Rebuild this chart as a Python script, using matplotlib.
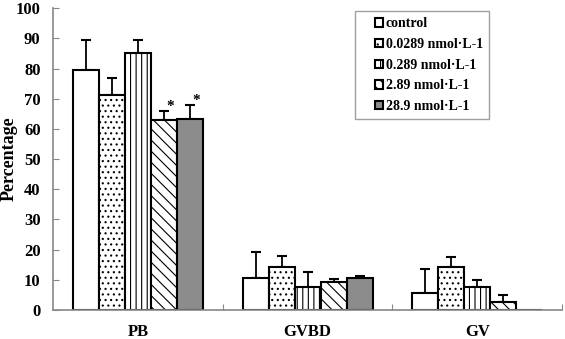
import numpy as np
import matplotlib
matplotlib.use("Agg")
from matplotlib import pyplot as plt
from matplotlib.patches import Rectangle
from matplotlib.container import BarContainer
from matplotlib.legend_handler import HandlerPatch, update_from_first_child

plt.rcParams['font.family'] = ['Liberation Serif', 'DejaVu Serif']
plt.rcParams['font.weight'] = 'bold'
plt.rcParams['hatch.linewidth'] = 0.8

categories = ["PB", "GVBD", "GV"]
series_names = ["control", "0.0289 nmol·L-1", "0.289 nmol·L-1", "2.89 nmol·L-1", "28.9 nmol·L-1"]
values = [
    [79.5, 10.5, 5.6],
    [71.3, 14.3, 14.3],
    [85.0, 7.5, 7.5],
    [62.8, 9.4, 2.5],
    [63.3, 10.6, 0.0],
]
errors = [
    [10.0, 8.8, 7.9],
    [5.7, 3.7, 3.4],
    [4.5, 5.0, 2.3],
    [3.2, 0.9, 2.5],
    [4.7, 0.8, 0.0],
]
# significance markers: (series index, category index)
stars = [(3, 0), (4, 0)]

hatches = ["", "...", "|||", "\\\\\\", ""]
facecolors = ["white", "white", "white", "white", "#8c8c8c"]


def small_square(legend, orig_handle, xdescent, ydescent, width, height, fontsize):
    # small box pushed to the right end of the handle area
    side = 0.62 * fontsize
    return Rectangle((width - side - xdescent, (height - side) / 2 - ydescent), side, side)


fig = plt.figure(figsize=(5.65, 3.39), dpi=100)
ax = fig.add_axes([0.094, 0.0855, 0.901, 0.8905])

x = np.arange(len(categories))
width = 0.153
for i, name in enumerate(series_names):
    pos = x + (i - 2) * width
    vals = np.array(values[i])
    errs = np.array(errors[i])
    ax.bar(pos, vals, width, color=facecolors[i], edgecolor="black", hatch=hatches[i],
           linewidth=1.5, label=name, zorder=2)
    mask = vals > 0
    ax.errorbar(pos[mask], vals[mask], yerr=[np.zeros(mask.sum()), errs[mask]], fmt="none",
                ecolor="black", elinewidth=1.3, capsize=3.5, capthick=1.5, zorder=1)

for i, c in stars:
    px = x[c] + (i - 2) * width + 0.035
    top = values[i][c] + errors[i][c]
    ax.text(px, top + 1.5, "*", ha="center", va="center", fontsize=11)

ax.set_xlim(-0.5, 2.5)
ax.set_ylim(0, 100)
ax.set_yticks(np.arange(0, 101, 10))
ax.set_xticks([0.5, 1.5, 2.5])
ax.set_xticklabels([])
ax.set_xticks(x, minor=True)
ax.set_xticklabels(categories, minor=True)
ax.tick_params(axis="x", which="minor", length=0, pad=10, labelsize=12)
ax.tick_params(axis="x", which="major", length=4, color="#888888", direction="in")
ax.tick_params(axis="y", length=4, color="#888888", direction="in", labelsize=12, pad=9)
for lab in ax.get_yticklabels() + ax.get_xticklabels(minor=True):
    lab.set_fontweight("bold")

ax.spines["top"].set_visible(False)
ax.spines["right"].set_visible(False)
ax.spines["left"].set_color("#888888")
ax.spines["bottom"].set_color("#888888")
ax.spines["left"].set_linewidth(1.2)
ax.spines["bottom"].set_linewidth(1.2)

ax.set_ylabel("Percentage", fontsize=13, fontweight="bold")
ax.yaxis.set_label_coords(-0.07, 0.5)

leg = ax.legend(loc="upper left", bbox_to_anchor=(0.593, 0.5, 0.263, 0.49), mode="expand",
                handlelength=1.6, handleheight=0.7, handletextpad=0.15,
                labelspacing=0.55, borderpad=0.45, borderaxespad=0, fancybox=False,
                frameon=True, prop={"weight": "bold", "size": 10},
                handler_map={BarContainer: HandlerPatch(patch_func=small_square,
                                                        update_func=update_from_first_child)})
leg.get_frame().set_edgecolor("#888888")
leg.get_frame().set_linewidth(1.0)

fig.savefig("out.png", dpi=100)
